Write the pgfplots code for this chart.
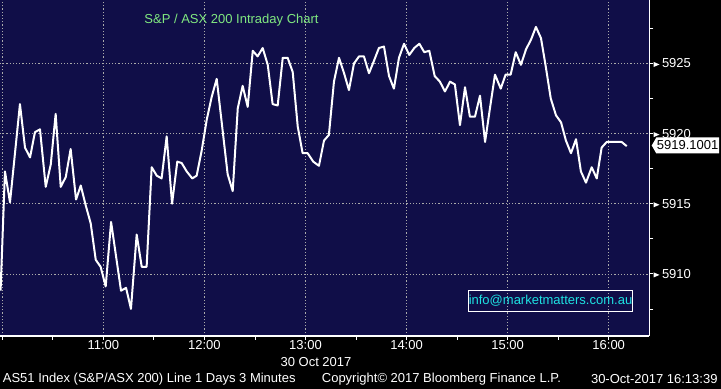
\documentclass[border=0pt]{standalone}
\usepackage{pgfplots}
\pgfplotsset{compat=1.18}
\usepackage{fontspec}
\setmainfont{Liberation Sans}
\usetikzlibrary{shapes.symbols}
\definecolor{bbnavy}{RGB}{16,14,72}
\definecolor{bbgreen}{RGB}{128,232,128}
\definecolor{bbcyan}{RGB}{30,225,225}
\definecolor{bbgrid}{RGB}{170,170,170}
\newcommand{\tri}{\tikz[baseline=-0.5ex]\fill[white] (0,-2.6bp)--(6bp,0)--(0,2.6bp)--cycle;\hspace{2.5bp}}
\newcommand{\bfs}{\fontsize{13bp}{15bp}\selectfont}
\pgfplotstableread{
m v
-1.0 5908.8
1.6 5917.3
4.6 5915.1
10.5 5922.1
13.5 5919.0
16.5 5918.3
19.4 5920.1
22.4 5920.3
25.8 5916.2
28.8 5917.8
31.7 5921.4
34.7 5916.2
37.7 5916.9
40.6 5918.9
43.8 5915.3
46.6 5916.3
49.5 5914.9
52.5 5913.6
55.5 5911.0
58.4 5910.5
61.4 5909.1
64.6 5913.7
70.5 5908.8
73.5 5909.0
76.4 5907.5
79.8 5912.8
82.8 5910.5
85.7 5910.5
88.7 5917.6
91.7 5917.0
94.6 5916.8
97.6 5919.8
100.8 5915.0
103.9 5918.0
106.5 5917.9
109.5 5917.3
112.8 5916.8
115.4 5917.0
118.4 5918.8
121.4 5921.0
124.3 5922.6
127.3 5923.9
133.8 5917.1
136.8 5915.9
139.8 5921.8
142.7 5923.4
145.7 5921.9
148.7 5925.9
151.6 5925.5
154.6 5926.1
157.6 5924.9
160.5 5922.1
163.5 5922.0
166.5 5925.4
169.4 5925.4
172.4 5924.4
175.4 5920.5
178.3 5918.6
181.3 5918.6
184.6 5918.0
188.0 5917.7
191.0 5919.5
193.9 5919.9
196.9 5923.7
199.9 5925.4
202.9 5924.3
205.8 5923.1
208.8 5925.0
211.8 5925.5
214.7 5925.5
217.7 5924.3
220.7 5925.2
223.6 5926.1
226.6 5926.2
229.6 5924.1
232.5 5923.2
235.5 5925.4
238.5 5926.4
241.6 5925.6
244.6 5926.1
247.6 5926.4
250.5 5925.8
253.5 5925.9
256.7 5924.1
259.8 5923.7
262.8 5923.0
265.8 5923.7
268.7 5923.5
271.7 5920.6
274.7 5923.3
277.6 5921.2
280.6 5921.2
283.6 5922.7
286.6 5919.4
289.5 5921.8
292.5 5924.2
295.9 5923.2
298.8 5924.2
301.8 5924.2
304.8 5925.8
307.9 5924.9
310.9 5926.0
313.9 5926.7
316.8 5927.6
319.8 5926.8
322.6 5924.8
325.6 5922.5
328.7 5921.3
331.7 5920.8
334.6 5919.5
337.6 5918.6
340.6 5919.6
343.5 5917.3
346.5 5916.5
349.9 5917.6
352.9 5916.8
355.8 5919.0
358.8 5919.4
361.8 5919.4
364.7 5919.4
367.7 5919.4
370.7 5919.1
}\datatable
\begin{document}
\begin{tikzpicture}
\fill[black] (0,-53bp) rectangle (721bp,336bp);
\begin{axis}[
  at={(0,0)}, anchor=south west,
  scale only axis, width=649.3bp, height=336bp,
  xmin=-1.34, xmax=384.1, ymin=5905.57, ymax=5929.52,
  axis background/.style={fill=bbnavy},
  axis x line*=bottom, axis y line*=right,
  axis line style={white, line width=1.2bp},
  xtick={0,60,120,180,240,300,360},
  xticklabels={,11:00,12:00,13:00,14:00,15:00,16:00},
  minor xtick={30,90,150,210,270,330},
  ytick={5910,5915,5920,5925},
  yticklabels={\tri5910,\tri5915,\tri5920,\tri5925},
  minor ytick={5907.5,5912.5,5917.5,5922.5,5927.5},
  tick align=outside,
  major tick length=4bp, minor tick length=4bp,
  tick style={white, line width=0.8bp},
  grid=major,
  major grid style={bbgrid, dash pattern=on 1.2bp off 2bp, line width=0.6bp},
  ticklabel style={font=\bfs, text=white},
  yticklabel style={anchor=west, inner sep=0pt},
  xticklabel style={inner sep=0pt, anchor=north},
]
\addplot[white, line width=2bp, line join=round] table[x=m, y=v] {\datatable};
\end{axis}
\node[font=\bfs, text=bbgreen, inner sep=0pt] at (231.5bp,316bp) {S\&P / ASX 200 Intraday Chart};
\node[draw=white, line width=1.3bp, text=bbcyan, font=\bfs, minimum width=162bp, minimum height=21bp, inner sep=0pt] at (550.5bp,35.2bp) {info@marketmatters.com.au};
\node[signal, signal to=west, signal pointer angle=120, fill=white, text=black, font=\bfs, anchor=west, inner xsep=0.6bp, inner ysep=2bp, minimum height=16bp] at (651.5bp,190.5bp) {5919.1001};
\node[font=\bfs, text=white, inner sep=0pt] at (316bp,-26bp) {30 Oct 2017};
\node[font=\bfs, text=white, inner sep=0pt, anchor=west] at (2.7bp,-43.3bp) {AS51 Index (S\&P/ASX 200) Line 1 Days 3 Minutes};
\node[font=\bfs, text=white, inner sep=0pt, anchor=west] at (321.7bp,-43.3bp) {Copyright© 2017 Bloomberg Finance L.P.};
\node[font=\bfs, text=white, inner sep=0pt, anchor=east] at (717.7bp,-43.3bp) {30-Oct-2017 16:13:39};
\pgfresetboundingbox
\useasboundingbox (0,-53bp) rectangle (721bp,336bp);
\end{tikzpicture}
\end{document}
